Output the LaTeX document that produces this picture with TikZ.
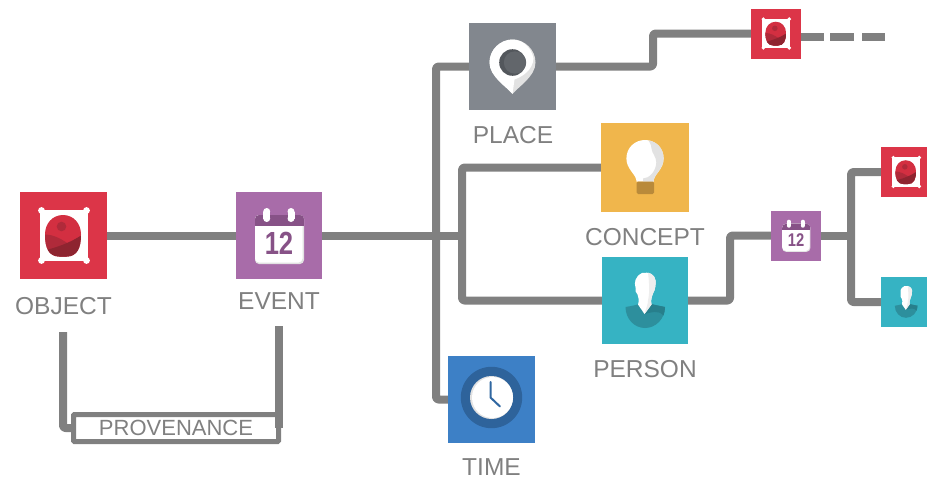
\documentclass[tikz,border=0pt]{standalone}
\usepackage{fontspec}
\usetikzlibrary{backgrounds}
\setmainfont{Liberation Sans}
\definecolor{linegray}{HTML}{808080}
\definecolor{tred}{HTML}{DC3548}
\definecolor{tpurple}{HTML}{A86CA9}
\definecolor{tgray}{HTML}{82878E}
\definecolor{tyellow}{HTML}{F0B64C}
\definecolor{tteal}{HTML}{36B3C3}
\definecolor{tblue}{HTML}{3D80C6}
\definecolor{redA}{HTML}{D32F41}
\definecolor{redB}{HTML}{B02A3A}
\definecolor{redC}{HTML}{8E2430}
\definecolor{purpleD}{HTML}{875287}
\definecolor{pinD}{HTML}{62666B}
\definecolor{pinE}{HTML}{53575C}
\definecolor{softgray}{HTML}{E2E2E2}
\definecolor{softgrayB}{HTML}{EEEEEE}
\definecolor{bulbbase}{HTML}{B98A3A}
\definecolor{tealD}{HTML}{2D8F9D}
\definecolor{tealE}{HTML}{277F8C}
\definecolor{blueD}{HTML}{2E639B}
\tikzset{
  conn/.style={draw=linegray,line width=8pt,rounded corners=2.5pt,line join=round},
  tile/.style={rectangle,fill=#1,minimum size=87pt,inner sep=0pt,outer sep=0pt},
  smalltile/.style={rectangle,fill=#1,minimum size=50pt,inner sep=0pt,outer sep=0pt},
  lbl/.style={text=linegray,font=\fontsize{24.5}{28}\selectfont,inner sep=0pt},
  smallicon/.style={scale=0.575,transform shape},
  objecticon/.pic={
    \fill[white] (-23.5,-25.5) -- (24,-25.5) -- (24,25.5) -- (-23.5,25.5) -- cycle;
    \foreach \px/\py in {-22/-25,23/-25,-22/25,23/25}{\fill[white] (\px,\py) circle (3.4pt);}
    \begin{scope}
      \path[clip] (-0.5,-20.5) .. controls (10,-20.5) and (17.5,-12) .. (17.5,-1)
        .. controls (17.5,12) and (14,21) .. (3,21) -- (-4,21)
        .. controls (-15,21) and (-18.5,12) .. (-18.5,-1)
        .. controls (-18.5,-12) and (-11,-20.5) .. (-0.5,-20.5) -- cycle;
      \fill[redA] (-19,-22) rectangle (19,22);
      \fill[redB] (-2,-9) circle (4.8pt);
      \fill[redB] (-19,-1) .. controls (-10,-1) and (-2,3) .. (10,12) -- (10,22) -- (-19,22) -- cycle;
      \fill[redC] (-19,15) .. controls (-8,12) and (6,8) .. (19,-1) -- (19,22) -- (-19,22) -- cycle;
    \end{scope}
  },
  eventicon/.pic={
    \fill[softgray,rounded corners=4pt] (-24,-20.5) rectangle (25,28.5);
    \fill[white,rounded corners=4pt] (-24,-20.5) rectangle (23.5,27);
    \begin{scope}
      \clip[rounded corners=4pt] (-24,-20.5) rectangle (25,28.5);
      \fill[purpleD] (-24,-21) rectangle (25,-9.5);
    \end{scope}
    \foreach \rx in {-12.3,12}{
      \fill[white] (\rx,-24) circle (3.5pt);
      \fill[white] (\rx,-17) circle (3.5pt);
      \fill[white] (\rx-3.5,-24) rectangle (\rx+3.5,-17);
    }
    \node[text=purpleD,font=\bfseries\fontsize{32}{32}\selectfont,inner sep=0pt,xscale=.8] (num) at (0,8) {12};
  },
  placeicon/.pic={
    \fill[softgray] (0,27.5) .. controls (-6,20) and (-23,10) .. (-23,-4)
      .. controls (-23,-17) and (-12,-27) .. (0,-27)
      .. controls (12,-27) and (23,-17) .. (23,-4)
      .. controls (23,10) and (6,20) .. (0,27.5) -- cycle;
    \fill[white] (0,27.5) .. controls (-6,20) and (-23,10) .. (-23,-4)
      .. controls (-23,-17) and (-12,-27) .. (0,-27)
      .. controls (10,-27) and (19,-19) .. (21,-8)
      .. controls (20,4) and (10,10) .. (2,13) -- cycle;
    \fill[pinE] (0,-4) circle (13.3pt);
    \fill[pinD] (2.5,-4) circle (11.2pt);
  },
  concepticon/.pic={
    \fill[white] (-8.5,14) .. controls (-8.5,7) and (-18.6,2) .. (-18.6,-9)
      .. controls (-18.6,-20) and (-10,-27.5) .. (0,-27.5)
      .. controls (10,-27.5) and (18.6,-20) .. (18.6,-9)
      .. controls (18.6,2) and (8.5,7) .. (8.5,14) -- cycle;
    \fill[softgray] (3.5,-27) .. controls (11,-26) and (18.6,-20) .. (18.6,-9)
      .. controls (18.6,2) and (8.5,7) .. (8.5,14) -- (-2,14) -- (-2,11)
      .. controls (4,11) and (11,4) .. (11.3,-5)
      .. controls (11.3,-11) and (7,-14) .. (6.5,-19)
      .. controls (6,-23) and (5,-25) .. (3.5,-27) -- cycle;
    \fill[bulbbase,rounded corners=1.5pt] (-8.5,14) rectangle (9,26.5);
  },
  personicon/.pic={
    \fill[tealD] (-19.5,6.5) .. controls (-13,5.5) and (-9,4.5) .. (-6,3.5) -- (6,3.5)
      .. controls (10,4.5) and (15,5.5) .. (20,6.5)
      .. controls (20,18) and (11,27.5) .. (0,27.5)
      .. controls (-11,27.5) and (-19.5,18) .. (-19.5,6.5) -- cycle;
    \fill[tealE] (-0.5,13.5) -- (6,3.5) .. controls (10,4.5) and (15,5.5) .. (20,6.5)
      .. controls (20,9) and (19.5,12) .. (18.5,15)
      .. controls (13,9) and (6,12) .. (-0.5,13.5) -- cycle;
    \fill[white] (-3,-27.5) .. controls (4,-29) and (10,-26) .. (10.5,-20)
      .. controls (11,-16) and (10,-10) .. (8,-7)
      .. controls (6.5,-3) and (5.5,0) .. (6.5,4)
      -- (-0.5,13.5) -- (-7,4)
      .. controls (-5.5,0) and (-6.5,-3) .. (-7.5,-6)
      .. controls (-9,-8) and (-10.5,-10) .. (-9.5,-13)
      .. controls (-11,-18) and (-10,-24) .. (-3,-27.5) -- cycle;
    \fill[softgrayB] (3,-27.9) .. controls (7,-27) and (10,-24) .. (10.5,-20)
      .. controls (11,-16) and (10,-10) .. (8,-7)
      .. controls (6.5,-3) and (5.5,0) .. (6.5,4)
      -- (-0.5,13.5) .. controls (1,8) and (3,4) .. (3,0)
      .. controls (5,-8) and (4,-20) .. (3,-27.9) -- cycle;
  },
  timeicon/.pic={
    \fill[blueD] (0,-2) circle (30.7pt);
    \fill[softgray] (0,-2) circle (21.5pt);
    \fill[white] (1,-2) circle (20.5pt);
    \draw[blueD!85!tblue,line width=2pt,line cap=round] (-1,-17.5) -- (-1,-2) -- (8.5,7);
  }
}
\begin{document}
\begin{tikzpicture}[x=1pt,y=-1pt]
\useasboundingbox (0,0) rectangle (927,479);
\path
  node[tile=tred] (object) at (63.5,235.5) {}
  node[tile=tpurple,minimum width=86pt] (event) at (279,235.5) {}
  node[tile=tgray] (place) at (512.5,66.5) {}
  node[tile=tyellow,minimum width=88pt,minimum height=89pt] (concept) at (645,167.5) {}
  node[tile=tteal,minimum width=86pt] (person) at (645,300.5) {}
  node[tile=tblue] (time) at (491.5,399.5) {}
  node[smalltile=tred] (objectB) at (776,33.5) {}
  node[smalltile=tpurple] (eventB) at (796,235.5) {}
  node[smalltile=tred,minimum width=46pt] (objectC) at (904,172) {}
  node[smalltile=tteal,minimum width=46pt] (personB) at (904,302) {};
% labels
\node[lbl] (objectlabel) at (63.5,305.8) {OBJECT};
\node[lbl] (eventlabel) at (279,301.2) {EVENT};
\node[lbl] (placelabel) at (513,135.5) {PLACE};
\node[lbl] (conceptlabel) at (645,237) {CONCEPT};
\node[lbl] (personlabel) at (645,368.6) {PERSON};
\node[lbl] (timelabel) at (491.5,467) {TIME};
% junction points
\coordinate (mainend) at (466,235.5);
\coordinate (railA) at (436,235.5);
\coordinate (railB) at (462,235.5);
\coordinate (stepA) at (653,50);
\coordinate (stepB) at (730,270);
\coordinate (railC) at (851,235.5);
\coordinate (dashend) at (886,36.5);
\coordinate (dashstart) at (801,36.5);
\coordinate (objprov) at (63,332);
\coordinate (evprov) at (278.5,326);
% connectors, behind the tiles
\begin{scope}[on background layer]
\draw[conn] (object.east) -- (event.west);
\draw[conn] (event.east) -- (mainend);
\draw[conn] (place.west) -| (railA) |- (time.west);
\draw[conn] (concept.west) -| (railB) |- (person.west);
\draw[conn] (place.east) -| (stepA) |- (objectB.west);
\draw[conn] (person.east) -| (stepB) |- (eventB.west);
\draw[conn] (eventB.east) -- (railC);
\draw[conn] (objectC.west) -| (railC) |- (personB.west);
\draw[conn,dash pattern=on 23pt off 6pt on 24pt off 8pt] (dashstart) -- (dashend);
\draw[conn] (objprov) |- (75,428);
\node[draw=linegray,line width=5pt,rounded corners=1pt,fill=white,outer sep=0pt,minimum width=205pt,minimum height=27pt,inner sep=0pt,text=linegray,font=\fontsize{22}{24}\selectfont] (provbox) at (176,428) {\raisebox{-0.7pt}{PROVENANCE}};
\draw[conn] (evprov) -- (provbox.east);
\end{scope}
% icons
\pic (i1) at (object) {objecticon};
\pic (i2) at (event) {eventicon};
\pic (i3) at (place) {placeicon};
\pic (i4) at (concept) {concepticon};
\pic (i5) at (person) {personicon};
\pic (i6) at (time) {timeicon};
\pic[smallicon] (i7) at (objectB) {objecticon};
\pic[smallicon] (i8) at (eventB) {eventicon};
\pic[smallicon] (i9) at ([xshift=2pt]objectC.center) {objecticon};
\pic[smallicon] (i10) at ([xshift=2pt]personB.center) {personicon};
\end{tikzpicture}
\end{document}
